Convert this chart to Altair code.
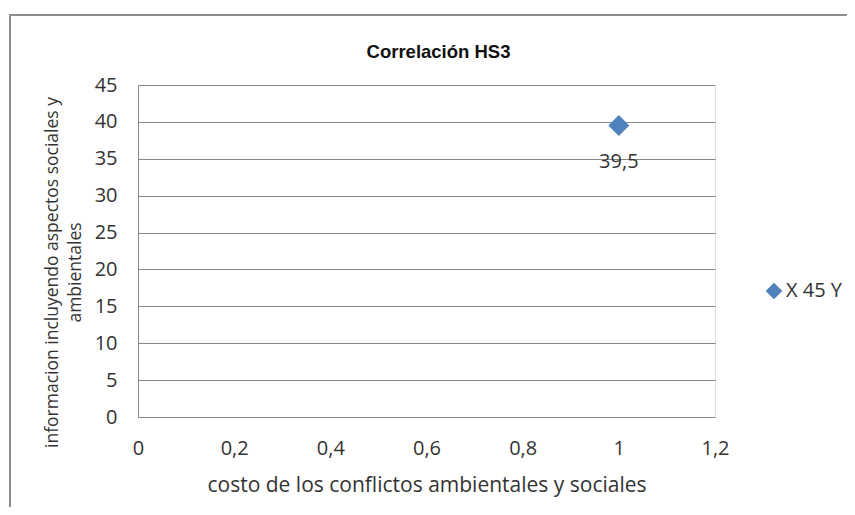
import altair as alt
import pandas as pd

# data
serie = ["X 45 Y"]
x_vals = [1.0]
y_vals = [39.5]

df = pd.DataFrame({"serie": serie, "x": x_vals, "y": y_vals})

BLUE = "#4F81BD"
GRID = "#888888"
TXT = "#333333"
FONT = "Open Sans"

xenc = alt.X("x:Q",
             scale=alt.Scale(domain=[0, 1.2], nice=False, zero=True),
             axis=alt.Axis(values=[0, 0.2, 0.4, 0.6, 0.8, 1.0, 1.2],
                           labelExpr="replace(format(datum.value, '~g'), '.', ',')",
                           grid=False, ticks=False, domainColor=GRID, domainWidth=1,
                           labelFont=FONT, labelFontSize=20, labelColor=TXT,
                           labelPadding=31, labelBaseline="middle",
                           labelFlush=False, labelOverlap=False,
                           title="costo de los conflictos ambientales y sociales",
                           titleFont=FONT, titleFontSize=21, titleFontWeight="normal",
                           titleColor=TXT, titleBaseline="middle", titleY=68))
yenc = alt.Y("y:Q",
             scale=alt.Scale(domain=[0, 45], nice=False),
             axis=alt.Axis(values=[0, 5, 10, 15, 20, 25, 30, 35, 40, 45],
                           tickCount=10,
                           grid=True, gridColor=GRID, gridWidth=1,
                           ticks=False, domainColor=GRID, domainWidth=1,
                           labelFont=FONT, labelFontSize=20, labelColor=TXT,
                           labelPadding=21, labelOverlap=False, labelFlush=False,
                           title=["informacion incluyendo aspectos sociales y", "ambientales"],
                           titleFont=FONT, titleFontSize=17.5, titleFontWeight="normal",
                           titleColor=TXT, titleAngle=-90, titleBaseline="middle",
                           titleAlign="center", titleX=-86, titleY=187,
                           titleLineHeight=23))

base = alt.Chart(df).encode(x=xenc, y=yenc)

frame = alt.Chart(df).mark_rect(filled=False, stroke="#8c8c8c", strokeWidth=2).encode(
    x=alt.value(-128), x2=alt.value(760), y=alt.value(-70), y2=alt.value(520)
)

points = base.mark_point(shape="diamond", filled=True, size=440, opacity=1).encode(
    color=alt.Color("serie:N", scale=alt.Scale(domain=serie, range=[BLUE]),
                    legend=alt.Legend(title=None, orient="none", legendX=626, legendY=196,
                                      symbolType="diamond", symbolSize=280,
                                      symbolStrokeWidth=0, padding=0,
                                      labelFont=FONT, labelFontSize=20, labelColor=TXT,
                                      labelOffset=2)),
)

labels = base.mark_text(font=FONT, fontSize=20, color=TXT, baseline="middle", dy=36).encode(
    text=alt.Text("lbl:N"),
).transform_calculate(lbl="replace(format(datum.y, '.1f'), '.', ',')")

chart = alt.layer(frame, points, labels).properties(
    width=577, height=332,
    title=alt.TitleParams("Correlación HS3", font="Liberation Sans", fontSize=18.5,
                          fontWeight="bold", color="#111111", anchor="middle",
                          frame="group", baseline="alphabetic", offset=0, dy=62, dx=12),
    autosize=alt.AutoSizeParams(type="none"),
    padding={"left": 130, "top": 77, "right": 132, "bottom": 90},
).configure_view(stroke=None).configure(background="white")

chart.save("out.html", embed_options={"renderer": "svg", "actions": False})
